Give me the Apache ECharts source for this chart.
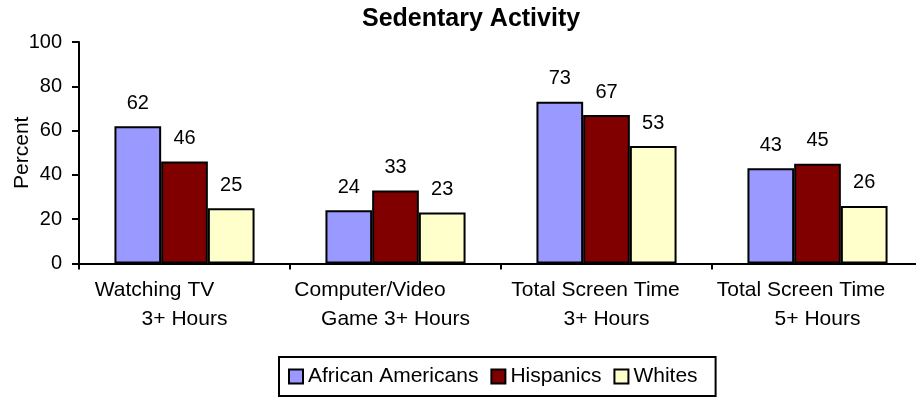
<!DOCTYPE html>
<html>
<head>
<meta charset="utf-8">
<script src="https://cdn.jsdelivr.net/npm/echarts@6/dist/echarts.min.js"></script>
<style>
html,body{margin:0;padding:0;background:#fff;}
#c{width:916px;height:397px;}
</style>
</head>
<body>
<div id="c"></div>
<script>
var categories = ['Watching TV\n3+ Hours', 'Computer/Video\nGame 3+ Hours', 'Total Screen Time\n3+ Hours', 'Total Screen Time\n5+ Hours'];
var africanAmericans = [62, 24, 73, 43];
var hispanics = [46, 33, 67, 45];
var whites = [25, 23, 53, 26];
var yTicks = [0, 20, 40, 60, 80, 100];

// extra right space on first label line (style only)
var firstLineShift = [60, 51, 22, 33];

var FONT = 'Arial, "Liberation Sans", sans-serif';
var chart = echarts.init(document.getElementById('c'), null, {renderer: 'canvas'});

function mkSeries(name, data, color) {
  return {
    name: name,
    type: 'bar',
    data: data,
    barGap: '0%',
    barCategoryGap: '33.6%',
    itemStyle: {color: color, borderColor: '#000', borderWidth: 2},
    label: {show: true, position: 'top', distance: 13, color: '#000', fontSize: 20, fontFamily: FONT},
    emphasis: {disabled: true},
    animation: false
  };
}

var rich = {a: {fontSize: 21, color: '#000', fontFamily: FONT, lineHeight: 29}};
firstLineShift.forEach(function (w, i) {
  rich['s' + i] = {width: w, fontSize: 21, lineHeight: 29};
});

chart.setOption({
  animation: false,
  backgroundColor: '#fff',
  title: {
    text: 'Sedentary Activity',
    left: 362, top: 7,
    padding: 0,
    textStyle: {fontSize: 25, fontWeight: 'bold', color: '#000', fontFamily: FONT}
  },
  grid: {left: 79, top: 42, width: 844, height: 221.5, containLabel: false, outerBoundsMode: 'none'},
  legend: {
    left: 279, top: 357,
    padding: [9, 18, 9, 9],
    borderColor: '#000', borderWidth: 2,
    itemWidth: 14, itemHeight: 14, itemGap: 12, itemTextGap: 6,
    icon: 'rect',
    textStyle: {fontSize: 21, color: '#000', fontFamily: FONT},
    data: ['African Americans', 'Hispanics', 'Whites']
  },
  xAxis: {
    type: 'category',
    data: categories,
    axisLine: {lineStyle: {color: '#000', width: 2}},
    axisTick: {show: true, length: 6, lineStyle: {color: '#000', width: 2}},
    axisLabel: {
      margin: 12,
      interval: 0,
      hideOverlap: false,
      formatter: function (v, i) {
        var p = v.split('\n');
        return '{a|' + p[0] + '}{s' + i + '| }\n{a|' + p[1] + '}';
      },
      rich: rich
    }
  },
  yAxis: {
    type: 'value',
    min: yTicks[0], max: yTicks[yTicks.length - 1], interval: 20,
    name: 'Percent',
    nameLocation: 'middle',
    nameGap: 46,
    nameMoveOverlap: false,
    nameTextStyle: {fontSize: 21, color: '#000', fontFamily: FONT},
    axisLine: {show: true, lineStyle: {color: '#000', width: 2}},
    axisTick: {show: true, length: 7, lineStyle: {color: '#000', width: 2}},
    axisLabel: {margin: 17, fontSize: 20, color: '#000', fontFamily: FONT},
    splitLine: {show: false}
  },
  series: [
    mkSeries('African Americans', africanAmericans, '#9999FF'),
    mkSeries('Hispanics', hispanics, '#800000'),
    mkSeries('Whites', whites, '#FFFFCC')
  ]
});
</script>
</body>
</html>
